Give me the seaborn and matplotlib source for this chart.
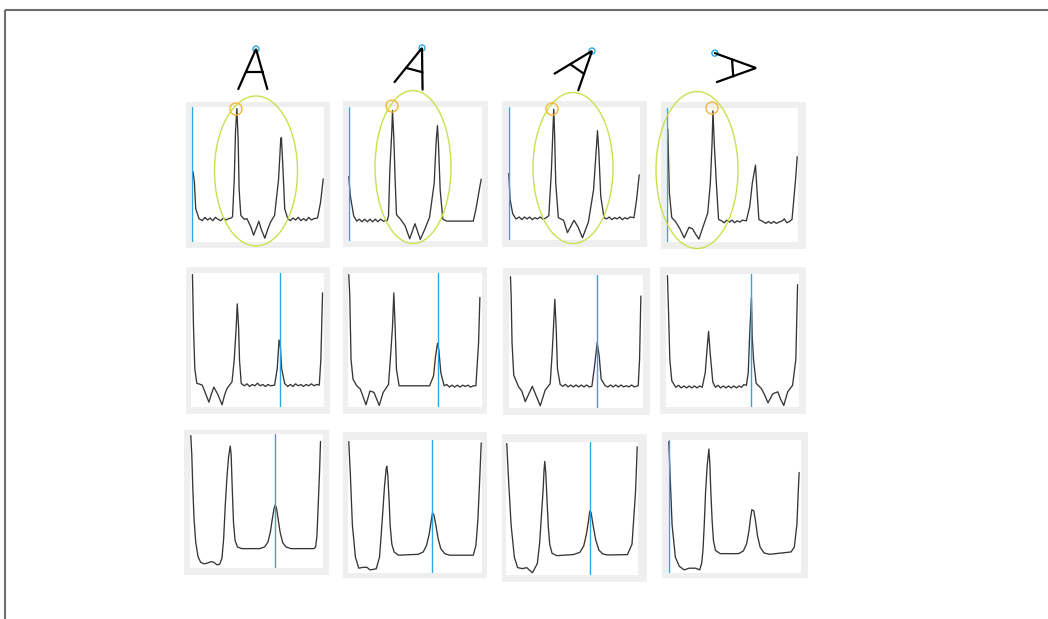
import numpy as np
import pandas as pd
import matplotlib
matplotlib.use("Agg")
import matplotlib.pyplot as plt
from matplotlib.patches import Ellipse, Circle, Rectangle
import seaborn as sns

# ---------------------------------------------------------------------------
# Radial intensity profiles (sample position 0-100, amplitude 0-100)
# one list per panel: row r, column c
# ---------------------------------------------------------------------------
profile_r1c1 = [(1, 52), (2, 44), (3, 24), (5.5, 16.5), (8, 15), (10, 17.5), (12, 15.5), (14, 17),
                (16, 15), (18, 17.5), (20, 16), (22, 15), (24, 17), (26, 15.5), (28, 16.5), (30, 17),
                (31, 18), (32.3, 46), (33.3, 83), (34.3, 100), (35.3, 76), (36, 39), (37.3, 19),
                (40, 16), (42, 16.5), (45, 10), (47, 4), (49, 9), (51, 14.5), (53, 8), (55.6, 1.7),
                (58, 9), (60, 14), (63, 19), (66, 46), (67.7, 77), (68.2, 78), (69.4, 53.6),
                (70.7, 24), (73, 16.5), (75, 15), (77, 17), (79, 15.5), (81, 17.5), (83, 15),
                (85, 16.5), (87, 15), (89, 17.5), (91, 15.5), (93, 16.5), (95.7, 17), (98, 29), (100, 46.7)]
profile_r1c2 = [(0, 48), (1.2, 33), (3.7, 18), (6, 14), (8, 15.5), (10, 13.5), (12, 15.5), (14, 13.5),
                (16, 15.5), (18, 13.5), (20, 15.5), (22, 13.5), (24, 15.5), (26, 14), (29, 14.5),
                (30, 18), (31, 53), (32.5, 83), (33, 98.5), (34, 78), (35, 45.5), (36, 19), (39, 15.5),
                (42.5, 10.5), (46, 0.5), (50, 12), (54, 0), (57.5, 8), (61, 17), (64.5, 43), (66, 75.5),
                (67, 87), (67.7, 73), (69, 38), (71, 15.5), (74, 14), (94, 14), (96, 23), (99, 40.5),
                (100, 46)]
profile_r1c3 = [(0, 50), (1, 30), (3, 19), (5.5, 15), (8, 16.5), (10, 14.5), (12, 16.5), (14, 15),
                (16, 16.5), (18, 14.5), (20, 16), (22, 15), (24, 16.5), (26, 15), (28, 15.5),
                (30.7, 17.5), (32.7, 52.5), (33.8, 82.5), (34.5, 99.5), (35.2, 77.5), (36, 42.5),
                (38, 16), (42, 14), (45, 4.5), (50, 14), (53, 9), (56.5, 0.5), (61, 12.5), (65, 37.5),
                (67, 67.5), (68, 83), (69, 67.5), (70.5, 32.5), (73, 16), (75, 15), (77, 16.5),
                (79, 14.5), (81, 16), (83, 15), (85, 16.5), (87, 14.5), (89, 16), (91, 15), (93, 16.5),
                (96, 16), (98, 30), (100, 49)]
profile_r1c4 = [(0.8, 85), (1.3, 64), (2, 36), (3.8, 17.5), (7, 14), (10, 9), (13.3, 2), (17, 10),
                (19.6, 9), (22, 5), (24.6, 1), (28, 11), (31.4, 21), (33.4, 44), (34.7, 74), (35.4, 99),
                (36.4, 74), (38, 44), (39.7, 16), (42, 15), (44, 13.5), (46, 15.5), (48, 14), (50, 15.5),
                (52, 13.5), (54, 15), (56, 14), (58, 15.5), (61, 15), (63.6, 26), (65.6, 44),
                (68, 57.5), (69, 41), (70.6, 16), (73.6, 14.5), (76, 13), (78, 14.5), (80, 13),
                (82, 14.5), (84, 13), (86, 14), (88.7, 15), (90, 16.5), (92, 13.5), (94, 14.5),
                (96, 16), (98.7, 46), (100, 64)]

profile_r2c1 = [(0.5, 100), (1.3, 60), (2.3, 28), (3.8, 17), (8, 15.5), (10.5, 9), (13, 2.5), (15, 9),
                (16.8, 14), (20, 8), (23, 0.5), (25, 8), (26.8, 13), (30.6, 18), (32.3, 35), (33.8, 60),
                (34.6, 77.6), (35.6, 60), (36.3, 35), (37.6, 16.7), (40, 15), (42, 16.5), (44, 14.5),
                (46, 16), (48, 15), (50, 17), (52, 15), (54, 16), (56, 14.5), (58, 16), (60, 15),
                (63, 15.5), (65, 28), (66.4, 50), (67.4, 45), (68.4, 28), (70.7, 16.7), (73, 14.5),
                (75, 16), (77, 14.5), (79, 16.5), (81, 15), (83, 16), (85, 14.5), (87, 16), (89, 15),
                (91, 16.5), (93, 15), (95, 16), (97, 15.5), (98.2, 35), (99.5, 86)]
profile_r2c2 = [(0, 100), (0.7, 85), (1.7, 35), (3.2, 20), (6, 15), (8.7, 12.5), (13, 0.5), (16, 11),
                (19, 10), (23, 0), (26, 10), (30, 16), (31.7, 40), (33, 60), (34, 86), (35, 60),
                (36, 27.5), (38, 15), (61, 15), (64, 22.5), (65.5, 37.5), (67, 47.5), (68, 42.5),
                (69.5, 25), (72, 15), (74, 16), (76, 14), (78, 15.5), (80, 14), (82, 15.5), (84, 14),
                (86, 15.5), (88, 14.5), (90, 15.5), (92, 14), (94, 15), (96, 15), (98, 47.5), (99, 82.5)]
profile_r2c3 = [(0.5, 100), (1, 86), (1.7, 49), (3, 24), (6.7, 15), (9, 12), (11.7, 3.7), (14.5, 10),
                (17, 15.5), (20, 8), (23, 0.5), (26.7, 12.5), (30.5, 17.5), (32, 41), (33, 61),
                (34, 82.5), (35, 61), (36, 29), (38, 17), (40, 15.5), (42, 17), (44, 15), (46, 16.5),
                (48, 15), (50, 16.5), (52, 15), (54, 16.5), (56, 15), (58, 16.5), (60, 15), (62, 15.5),
                (64, 31), (66, 49), (67.5, 39), (69, 21), (72, 16), (74, 15), (76, 16.5), (78, 15),
                (80, 16.5), (82, 15), (84, 16.5), (86, 15), (88, 16), (90, 15), (92, 16.5), (94, 15),
                (97, 16), (98, 36), (99, 85)]
profile_r2c4 = [(0.5, 100), (1.3, 73), (2.3, 35.5), (3.8, 19), (6.8, 14), (9, 15.5), (11, 13.5),
                (13, 15), (15, 13.5), (17, 15), (19, 13.5), (21, 15), (23, 13.5), (25, 15), (27, 14),
                (29.3, 25.5), (30.6, 43), (31.8, 57), (33, 40.5), (35, 18), (37, 14), (39, 15.5),
                (41, 13.5), (43, 15), (45, 13.5), (47, 15), (49, 13.5), (51, 15), (53, 13.5), (55, 15),
                (57, 14), (58.5, 16), (60.6, 15.5), (62, 25.5), (63, 53), (64.4, 83), (65, 53),
                (66, 35.5), (68, 17), (72, 13), (74.5, 8), (77, 2), (80.7, 9), (84.5, 10.5),
                (86.5, 5), (89, 0), (92, 10.5), (95.7, 15.5), (98.2, 35.5), (99.5, 93)]

profile_r3c1 = [(0, 100), (0.75, 85.6), (1.5, 60.8), (2.5, 36), (3.75, 18.6), (5.5, 7.4), (7.5, 3.2),
                (10, 2), (12.5, 2.5), (15.5, 3.7), (17.5, 3.2), (20, 1.2), (22, 1.7), (23.7, 6.2),
                (25, 21), (26.2, 46), (27.5, 68), (28.7, 83), (30, 92), (30.7, 85.6), (31.5, 60.8),
                (32.5, 33.5), (33.7, 19.9), (35.5, 14.9), (38.7, 13.6), (52.5, 13.6), (56.2, 14.9),
                (58.7, 18.6), (60.5, 26), (62, 36), (63.2, 43.4), (64.2, 47), (65.2, 44.7), (66.5, 36),
                (68, 26), (70, 18), (72.5, 14.9), (76.2, 13.6), (93.7, 13.6), (95, 14.9), (96, 23.6),
                (97, 48), (98, 73), (98.7, 95.5)]
profile_r3c2 = [(0, 100), (1.2, 74), (2.7, 36), (5, 11), (7.5, 2.5), (11, 3.2), (13.7, 3.2), (16, 1.2),
                (20.7, 2), (23.2, 11), (24.5, 28.7), (25.7, 46), (27, 66), (28.2, 78.7), (28.7, 81),
                (29.5, 73.7), (30.5, 53.7), (31.2, 36), (32.5, 21), (34.2, 15), (37.5, 12.5),
                (52.5, 13.2), (56.2, 15), (58.7, 20), (60.7, 28.7), (62.2, 38.7), (63.2, 45),
                (64.2, 43.7), (65.7, 36), (67.5, 25), (69.5, 17.5), (72.5, 13.7), (76.2, 12.5),
                (94, 12.5), (96, 20), (97.5, 40), (99, 74), (100, 99)]
profile_r3c3 = [(0, 100), (1.2, 75), (3.3, 37.5), (5.8, 12.5), (8.3, 4.5), (12, 3.7), (15.3, 4.5),
                (19.6, 0.5), (23.4, 7.5), (25.1, 22.5), (26.6, 45), (27.9, 65), (28.6, 80), (29.1, 86.2),
                (29.9, 77.5), (30.9, 55), (31.9, 35), (32.9, 22.5), (34.7, 15.5), (38.4, 13.7),
                (50.9, 14.5), (56, 16.2), (59, 21.2), (61, 30), (62.6, 40), (63.6, 48), (64.6, 47),
                (66.1, 37.5), (68.1, 26.2), (70.6, 18), (73.6, 15), (77.4, 14.2), (92.5, 14.5),
                (96, 22.5), (98.7, 62.5), (100, 97.5)]
profile_r3c4 = [(0, 100), (1, 74), (2.5, 36), (5, 11), (8, 4), (11.7, 1.2), (15.5, 2.5), (20.5, 2.5),
                (23.5, 1.2), (25, 6.2), (26, 16.2), (27, 36.2), (28, 61.2), (29.2, 81.2), (30.5, 94.2),
                (31.2, 83.7), (32, 61.2), (33, 38.7), (34, 23.7), (35.5, 16.2), (39.2, 13.7),
                (53, 13.7), (56.7, 15.7), (59.2, 21.2), (61, 31.2), (62.2, 41.2), (63.2, 47.5),
                (64.7, 46.7), (66, 38.7), (67.5, 27.5), (69.5, 18.7), (72.5, 14.2), (76.7, 13.2),
                (93, 15), (95.5, 18.7), (97.5, 36.2), (98.5, 61.2), (99.2, 76.2)]

# reference sample marked by the blue cursor in each panel
cursor_row1 = [0, 0, 0, 0]
cursor_row2 = [67, 67, 66, 64.4]
cursor_row3 = [64, 63, 63.6, 0]

# rotation of the glyph above each column (degrees)
glyph_rotation = [0, 15, 35, 86]

# ---------------------------------------------------------------------------
# Layout (pixels)
# ---------------------------------------------------------------------------
W, H = 1048, 619
inner_boxes = [
    [(191, 107, 324, 242), (348, 107, 482, 241), (508, 107, 640, 240), (666, 108, 798, 242)],
    [(191, 273, 324, 407), (348, 273, 482, 407), (509, 275, 643, 408), (666, 274, 799, 407)],
    [(190, 434, 323, 568), (348, 440, 482, 573), (506, 442, 638, 575), (668, 440, 801, 573)],
]
outer_boxes = [
    [(186, 102, 330, 248), (343, 101, 488, 247), (502, 101, 647, 247), (661, 102, 806, 249)],
    [(186, 267, 330, 414), (343, 267, 487, 414), (503, 268, 650, 415), (660, 267, 806, 414)],
    [(184, 430, 329, 575), (343, 432, 487, 578), (502, 434, 647, 582), (662, 432, 808, 578)],
]
glyph_apex = [(256, 49), (422, 48), (592, 51), (756, 68)]
glyph_marker_vertex = ["apex", "apex", "apex", "left"]
region_ellipses = [(256, 171, 83, 150), (413, 167, 76, 153), (573, 168, 80, 151), (697, 170, 82, 157)]
peak_rings = [(236, 109), (392, 106), (552, 109), (712, 108)]

TRACE_COLOR = "#363636"
CURSOR_COLOR = "#2aa8e0"
BOX_COLOR = "#efefef"
ELLIPSE_COLOR = "#c8e14e"
RING_COLOR = "#f4b63a"
FRAME_COLOR = "#6e6e6e"

profiles = [
    [profile_r1c1, profile_r1c2, profile_r1c3, profile_r1c4],
    [profile_r2c1, profile_r2c2, profile_r2c3, profile_r2c4],
    [profile_r3c1, profile_r3c2, profile_r3c3, profile_r3c4],
]
cursors = [cursor_row1, cursor_row2, cursor_row3]

sns.set_style("white")
fig = plt.figure(figsize=(W / 100, H / 100), dpi=100)
fig.patch.set_facecolor("white")


def to_fig(box):
    x0, y0, x1, y1 = box
    return [x0 / W, 1 - y1 / H, (x1 - x0) / W, (y1 - y0) / H]


# background layer: window frame and panel borders
bg = fig.add_axes([0, 0, 1, 1], zorder=0)
bg.set_xlim(0, W)
bg.set_ylim(H, 0)
bg.axis("off")
bg.plot([5, W], [10, 10], color=FRAME_COLOR, lw=1.5, solid_capstyle="butt")
bg.plot([5, 5], [10, H], color=FRAME_COLOR, lw=1.5, solid_capstyle="butt")
for row in outer_boxes:
    for (x0, y0, x1, y1) in row:
        bg.add_patch(Rectangle((x0, y0), x1 - x0, y1 - y0, facecolor=BOX_COLOR, edgecolor="none"))

# profile panels
for r in range(3):
    for c in range(4):
        ax = fig.add_axes(to_fig(inner_boxes[r][c]), zorder=1)
        df = pd.DataFrame(profiles[r][c], columns=["sample", "amplitude"])
        sns.lineplot(data=df, x="sample", y="amplitude", ax=ax, color=TRACE_COLOR,
                     linewidth=0.95, estimator=None, sort=False)
        ax.axvline(cursors[r][c], color=CURSOR_COLOR, lw=1.0)
        ax.set_xlim(-0.6, 100.6)
        ax.set_ylim(-1.2, 101.2)
        ax.set_facecolor("white")
        ax.set_xlabel("")
        ax.set_ylabel("")
        ax.set_xticks([])
        ax.set_yticks([])
        for s in ax.spines.values():
            s.set_visible(False)

# overlay layer: glyphs, highlighted regions and peak markers
ov = fig.add_axes([0, 0, 1, 1], zorder=2)
ov.set_xlim(0, W)
ov.set_ylim(H, 0)
ov.axis("off")
ov.patch.set_alpha(0)

# letter "A" strokes relative to its apex (screen coordinates, y downwards)
left_foot = np.array([-17.7, 40.0])
right_foot = np.array([11.3, 40.0])
bar_a = np.array([-10.3, 23.3])
bar_b = np.array([6.7, 23.3])

for (ax_, ay_), ang, mark in zip(glyph_apex, glyph_rotation, glyph_marker_vertex):
    t = np.deg2rad(ang)
    rot = np.array([[np.cos(t), -np.sin(t)], [np.sin(t), np.cos(t)]])
    apex = np.array([ax_, ay_], dtype=float)
    lf = apex + rot @ left_foot
    rf = apex + rot @ right_foot
    ba = apex + rot @ bar_a
    bb = apex + rot @ bar_b
    ov.plot([lf[0], apex[0], rf[0]], [lf[1], apex[1], rf[1]], color="black", lw=1.6,
            solid_joinstyle="miter")
    ov.plot([ba[0], bb[0]], [ba[1], bb[1]], color="black", lw=1.6)
    mp = apex if mark == "apex" else lf
    ov.add_patch(Circle(mp, 3.0, facecolor="none", edgecolor=CURSOR_COLOR, lw=1.0))

for (cx, cy, w, h) in region_ellipses:
    ov.add_patch(Ellipse((cx, cy), w, h, facecolor="none", edgecolor=ELLIPSE_COLOR, lw=1.0))
for (cx, cy) in peak_rings:
    ov.add_patch(Circle((cx, cy), 6.0, facecolor="none", edgecolor=RING_COLOR, lw=1.0))

fig.savefig("out.png", dpi=100, facecolor="white")
